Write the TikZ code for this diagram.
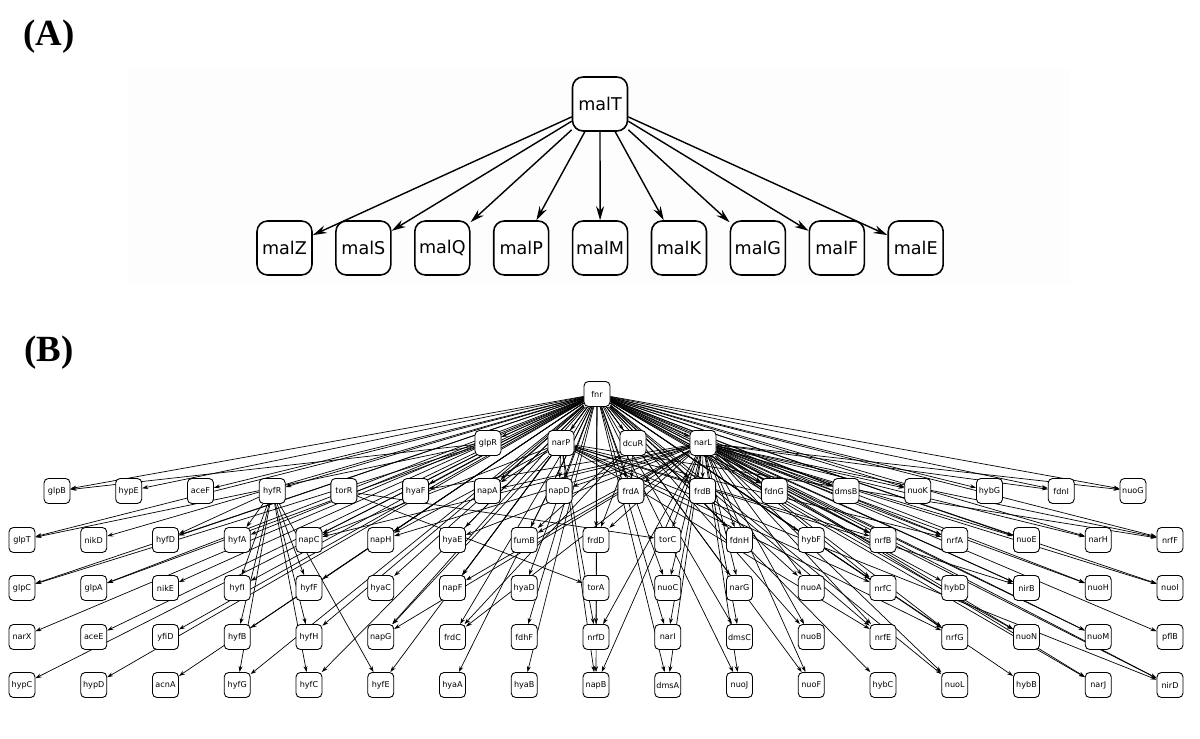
\documentclass[tikz,border=0pt]{standalone}
\usepackage{fontspec}
\setmainfont{DejaVu Sans}
\newfontfamily\panelfont{Liberation Serif}
\usetikzlibrary{arrows.meta}
\usetikzlibrary{backgrounds}

\begin{document}
\begin{tikzpicture}[x=0.02cm, y=-0.02cm,
gene/.style = {draw, line width=0.9pt, rounded corners=6pt, fill=white,
  minimum width=1.1cm, minimum height=1.08cm, inner sep=1pt,
  font=\fontsize{10}{12}\selectfont},
small/.style = {draw, line width=0.5pt, rounded corners=2.5pt, fill=white,
  minimum width=0.52cm, minimum height=0.5cm, inner sep=0.5pt,
  font=\fontsize{4.6}{5}\selectfont},
link/.style = {line width=0.8pt, -{Stealth[length=2.8mm,width=1.6mm]}},
thin/.style = {line width=0.4pt, -{Stealth[length=1.2mm,width=0.8mm]}},
panel/.style = {font=\panelfont\bfseries\fontsize{21}{24}\selectfont}
]
\useasboundingbox (0,0) rectangle (1200,739);

% (A) maltose regulon
\node [panel] (labA) at (49,37) {(A)};
\node [gene] (malT) at (600,104) {malT};
\foreach \n [count=\i from 0] in {malZ,malS,malQ,malP,malM,malK,malG,malF,malE}
  \node [gene] (\n) at (284.5+78.9*\i,248) {\n};

% (B) fnr network
\node [panel] (labB) at (49,353) {(B)};
\node [small] (fnr) at (597,394) {fnr};
\foreach \n/\x in {glpR/488,narP/561,dcuR/633,narL/703}
  \node [small] (\n) at (\x,443) {\n};
\foreach \n [count=\i from 0] in {glpB,hypE,aceF,hyfR,torR,hyaF,napA,napD,frdA,frdB,fdnG,dmsB,nuoK,hybG,fdnI,nuoG}
  \node [small] (\n) at (57+71.73*\i,491) {\n};
\foreach \n [count=\i from 0] in {glpT,nikD,hyfD,hyfA,napC,napH,hyaE,fumB,frdD,torC,fdnH,hybF,nrfB,nrfA,nuoE,narH,nrfF}
  \node [small] (\n) at (22+71.75*\i,540) {\n};
\foreach \n [count=\i from 0] in {glpC,glpA,nikE,hyfI,hyfF,hyaC,napF,hyaD,torA,nuoC,narG,nuoA,nrfC,hybD,nirB,nuoH,nuoI}
  \node [small] (\n) at (22+71.75*\i,588) {\n};
\foreach \n [count=\i from 0] in {narX,aceE,yfiD,hyfB,hyfH,napG,frdC,fdhF,nrfD,narI,dmsC,nuoB,nrfE,nrfG,nuoN,nuoM,pflB}
  \node [small] (\n) at (22+71.75*\i,637) {\n};
\foreach \n [count=\i from 0] in {hypC,hypD,acnA,hyfG,hyfC,hyfE,hyaA,hyaB,napB,dmsA,nuoJ,nuoF,hybC,nuoL,hybB,narJ,nirD}
  \node [small] (\n) at (22+71.75*\i,685) {\n};

\begin{pgfonlayer}{background}
\fill [black!0.6] (128,70) rectangle (1070,283);
\foreach \n in {malZ,malS,malQ,malP,malM,malK,malG,malF,malE}
  \draw [link] (malT) -- (\n);

\foreach \n in {glpR,narP,dcuR,narL,hyfR,
  glpB,hypE,aceF,hyaF,napA,napD,frdA,frdB,fdnG,dmsB,nuoK,hybG,fdnI,nuoG,
  glpT,nikD,hyfD,hyfA,napC,napH,hyaE,fumB,frdD,fdnH,hybF,nrfB,nrfA,nuoE,narH,nrfF,
  glpC,glpA,nikE,hyfI,hyfF,hyaC,napF,hyaD,nuoC,narG,nuoA,nrfC,hybD,nirB,nuoH,nuoI,
  narX,aceE,yfiD,hyfB,hyfH,napG,frdC,fdhF,nrfD,narI,dmsC,nuoB,nrfE,nrfG,nuoN,nuoM,pflB,
  hypC,hypD,acnA,hyfG,hyfC,hyfE,hyaA,hyaB,napB,dmsA,nuoJ,nuoF,hybC,nuoL,hybB,narJ,nirD}
  \draw [thin] (fnr) -- (\n);
\foreach \n in {hyaF,hyaE,fumB,torC,napA,napD,napC,napH,napF,napG,napB,
  frdA,frdB,frdD,frdC,fdnG,fdnH,fdnI,dmsB,dmsC,dmsA,
  nuoK,nuoG,nuoE,nuoC,nuoA,nuoB,nuoF,nuoJ,nuoL,nuoN,nuoM,nuoH,nuoI,
  nrfB,nrfA,nrfF,nrfC,nrfE,nrfG,nrfD,narH,narG,narI,narJ,nirB,nirD}
  \draw [thin] (narL) -- (\n);
\foreach \n in {napA,napD,napC,napH,napF,napG,napB,nrfB,nrfA,nrfF,nrfC,nrfE,nrfG,nrfD,nirB,nirD}
  \draw [thin] (narP) -- (\n);
\foreach \n in {frdA,frdB,frdC,frdD,fumB}
  \draw [thin] (dcuR) -- (\n);
\foreach \n in {glpB,glpT,glpC,glpA}
  \draw [thin] (glpR) -- (\n);
\foreach \n in {hyfA,hyfD,hyfI,hyfF,hyfB,hyfH,hyfG,hyfC,hyfE}
  \draw [thin] (hyfR) -- (\n);
\foreach \n in {torC,torA}
  \draw [thin] (torR) -- (\n);
\end{pgfonlayer}

\end{tikzpicture}
\end{document}
